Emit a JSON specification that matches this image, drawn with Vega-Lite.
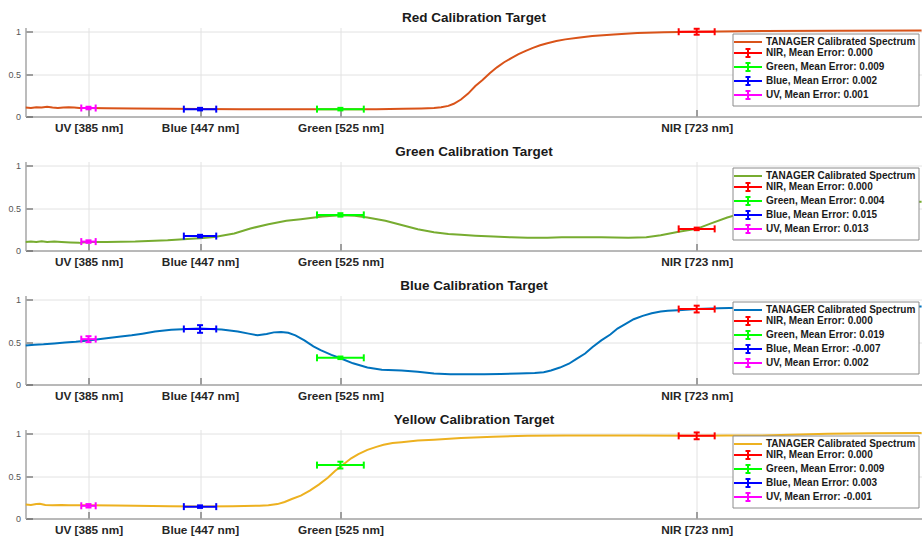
{
  "$schema": "https://vega.github.io/schema/vega-lite/v6.json",
  "autosize": {"type": "pad"},
  "padding": {"left": 7.5, "top": 10.5, "right": 0, "bottom": 0},
  "background": "#ffffff",
  "config": {
    "font": "Liberation Sans",
    "view": {"stroke": null},
    "title": {"fontSize": 13.5, "fontWeight": "bold", "color": "#1a1a1a", "anchor": "middle", "baseline": "alphabetic", "offset": 3},
    "axis": {"domainColor": "#a6a6a6", "domainWidth": 1.5, "gridColor": "#e2e2e2", "gridWidth": 1, "tickColor": "#4d4d4d", "tickWidth": 1, "tickSize": -7, "labelOverlap": false, "labelFlush": false},
    "axisX": {"labelFontSize": 11.8, "labelFontWeight": "bold", "labelColor": "#262626", "labelPadding": 12.5},
    "axisY": {"labelFontSize": 9, "labelColor": "#555555", "labelPadding": 12},
    "legend": {"labelFontSize": 10, "labelFontWeight": "bold", "labelColor": "#1a1a1a", "symbolSize": 100, "symbolStrokeWidth": 2, "symbolOffset": 7, "labelOffset": 12, "padding": 2.5, "rowPadding": -3.8, "strokeColor": "#8c8c8c", "fillColor": "#ffffff", "labelLimit": 0, "cornerRadius": 0}
  },
  "datasets": {
    "spectra": [
      {"t": "Red", "wl": 350, "r": 0.105}, {"t": "Red", "wl": 353, "r": 0.1}, {"t": "Red", "wl": 356, "r": 0.11}, {"t": "Red", "wl": 359, "r": 0.105},
      {"t": "Red", "wl": 362, "r": 0.115}, {"t": "Red", "wl": 365, "r": 0.105}, {"t": "Red", "wl": 368, "r": 0.1}, {"t": "Red", "wl": 371, "r": 0.105},
      {"t": "Red", "wl": 374, "r": 0.11}, {"t": "Red", "wl": 377, "r": 0.105}, {"t": "Red", "wl": 380, "r": 0.1}, {"t": "Red", "wl": 385, "r": 0.1},
      {"t": "Red", "wl": 395, "r": 0.098}, {"t": "Red", "wl": 410, "r": 0.094}, {"t": "Red", "wl": 430, "r": 0.09}, {"t": "Red", "wl": 447, "r": 0.088},
      {"t": "Red", "wl": 470, "r": 0.086}, {"t": "Red", "wl": 500, "r": 0.085}, {"t": "Red", "wl": 525, "r": 0.085}, {"t": "Red", "wl": 545, "r": 0.087},
      {"t": "Red", "wl": 560, "r": 0.09}, {"t": "Red", "wl": 570, "r": 0.095}, {"t": "Red", "wl": 577, "r": 0.1}, {"t": "Red", "wl": 581, "r": 0.108},
      {"t": "Red", "wl": 585, "r": 0.125}, {"t": "Red", "wl": 588, "r": 0.15}, {"t": "Red", "wl": 592, "r": 0.2}, {"t": "Red", "wl": 596, "r": 0.27},
      {"t": "Red", "wl": 600, "r": 0.36}, {"t": "Red", "wl": 604, "r": 0.43}, {"t": "Red", "wl": 608, "r": 0.51}, {"t": "Red", "wl": 612, "r": 0.58},
      {"t": "Red", "wl": 616, "r": 0.64}, {"t": "Red", "wl": 620, "r": 0.69}, {"t": "Red", "wl": 624, "r": 0.735}, {"t": "Red", "wl": 628, "r": 0.775},
      {"t": "Red", "wl": 632, "r": 0.81}, {"t": "Red", "wl": 636, "r": 0.84}, {"t": "Red", "wl": 640, "r": 0.865}, {"t": "Red", "wl": 645, "r": 0.89},
      {"t": "Red", "wl": 650, "r": 0.91}, {"t": "Red", "wl": 657, "r": 0.93}, {"t": "Red", "wl": 665, "r": 0.95}, {"t": "Red", "wl": 677, "r": 0.968},
      {"t": "Red", "wl": 690, "r": 0.985}, {"t": "Red", "wl": 705, "r": 0.993}, {"t": "Red", "wl": 723, "r": 1.0}, {"t": "Red", "wl": 760, "r": 1.008},
      {"t": "Red", "wl": 800, "r": 1.012}, {"t": "Red", "wl": 848, "r": 1.015},

      {"t": "Green", "wl": 350, "r": 0.1}, {"t": "Green", "wl": 353, "r": 0.105}, {"t": "Green", "wl": 356, "r": 0.1}, {"t": "Green", "wl": 359, "r": 0.11},
      {"t": "Green", "wl": 362, "r": 0.1}, {"t": "Green", "wl": 366, "r": 0.105}, {"t": "Green", "wl": 370, "r": 0.1}, {"t": "Green", "wl": 375, "r": 0.095},
      {"t": "Green", "wl": 380, "r": 0.09}, {"t": "Green", "wl": 385, "r": 0.1}, {"t": "Green", "wl": 395, "r": 0.1}, {"t": "Green", "wl": 411, "r": 0.105},
      {"t": "Green", "wl": 429, "r": 0.12}, {"t": "Green", "wl": 440, "r": 0.135}, {"t": "Green", "wl": 447, "r": 0.145}, {"t": "Green", "wl": 455, "r": 0.16},
      {"t": "Green", "wl": 466, "r": 0.2}, {"t": "Green", "wl": 475, "r": 0.26}, {"t": "Green", "wl": 485, "r": 0.31}, {"t": "Green", "wl": 495, "r": 0.35},
      {"t": "Green", "wl": 503, "r": 0.37}, {"t": "Green", "wl": 515, "r": 0.4}, {"t": "Green", "wl": 525, "r": 0.415}, {"t": "Green", "wl": 533, "r": 0.41},
      {"t": "Green", "wl": 540, "r": 0.39}, {"t": "Green", "wl": 550, "r": 0.35}, {"t": "Green", "wl": 559, "r": 0.3}, {"t": "Green", "wl": 568, "r": 0.25},
      {"t": "Green", "wl": 577, "r": 0.215}, {"t": "Green", "wl": 585, "r": 0.195}, {"t": "Green", "wl": 592, "r": 0.185}, {"t": "Green", "wl": 600, "r": 0.175},
      {"t": "Green", "wl": 610, "r": 0.165}, {"t": "Green", "wl": 620, "r": 0.155}, {"t": "Green", "wl": 629, "r": 0.15}, {"t": "Green", "wl": 640, "r": 0.15},
      {"t": "Green", "wl": 648, "r": 0.155}, {"t": "Green", "wl": 660, "r": 0.155}, {"t": "Green", "wl": 670, "r": 0.155}, {"t": "Green", "wl": 685, "r": 0.15},
      {"t": "Green", "wl": 695, "r": 0.155}, {"t": "Green", "wl": 703, "r": 0.18}, {"t": "Green", "wl": 713, "r": 0.22}, {"t": "Green", "wl": 723, "r": 0.255},
      {"t": "Green", "wl": 731, "r": 0.32}, {"t": "Green", "wl": 740, "r": 0.39}, {"t": "Green", "wl": 750, "r": 0.45}, {"t": "Green", "wl": 760, "r": 0.5},
      {"t": "Green", "wl": 775, "r": 0.54}, {"t": "Green", "wl": 790, "r": 0.555}, {"t": "Green", "wl": 810, "r": 0.565}, {"t": "Green", "wl": 830, "r": 0.57},
      {"t": "Green", "wl": 848, "r": 0.575},

      {"t": "Blue", "wl": 350, "r": 0.46}, {"t": "Blue", "wl": 355, "r": 0.47}, {"t": "Blue", "wl": 360, "r": 0.475}, {"t": "Blue", "wl": 366, "r": 0.485},
      {"t": "Blue", "wl": 372, "r": 0.495}, {"t": "Blue", "wl": 378, "r": 0.505}, {"t": "Blue", "wl": 385, "r": 0.52}, {"t": "Blue", "wl": 395, "r": 0.545},
      {"t": "Blue", "wl": 403, "r": 0.565}, {"t": "Blue", "wl": 409, "r": 0.58}, {"t": "Blue", "wl": 415, "r": 0.6}, {"t": "Blue", "wl": 422, "r": 0.625},
      {"t": "Blue", "wl": 431, "r": 0.645}, {"t": "Blue", "wl": 440, "r": 0.655}, {"t": "Blue", "wl": 447, "r": 0.66}, {"t": "Blue", "wl": 459, "r": 0.65},
      {"t": "Blue", "wl": 468, "r": 0.625}, {"t": "Blue", "wl": 474, "r": 0.6}, {"t": "Blue", "wl": 479, "r": 0.58}, {"t": "Blue", "wl": 484, "r": 0.595},
      {"t": "Blue", "wl": 488, "r": 0.615}, {"t": "Blue", "wl": 492, "r": 0.62}, {"t": "Blue", "wl": 496, "r": 0.61}, {"t": "Blue", "wl": 500, "r": 0.58},
      {"t": "Blue", "wl": 505, "r": 0.52}, {"t": "Blue", "wl": 510, "r": 0.45}, {"t": "Blue", "wl": 514, "r": 0.405}, {"t": "Blue", "wl": 520, "r": 0.35},
      {"t": "Blue", "wl": 525, "r": 0.31}, {"t": "Blue", "wl": 532, "r": 0.25}, {"t": "Blue", "wl": 540, "r": 0.2}, {"t": "Blue", "wl": 548, "r": 0.175},
      {"t": "Blue", "wl": 559, "r": 0.165}, {"t": "Blue", "wl": 568, "r": 0.15}, {"t": "Blue", "wl": 577, "r": 0.13}, {"t": "Blue", "wl": 586, "r": 0.122},
      {"t": "Blue", "wl": 596, "r": 0.12}, {"t": "Blue", "wl": 605, "r": 0.122}, {"t": "Blue", "wl": 614, "r": 0.125}, {"t": "Blue", "wl": 624, "r": 0.13},
      {"t": "Blue", "wl": 633, "r": 0.135}, {"t": "Blue", "wl": 638, "r": 0.145}, {"t": "Blue", "wl": 642, "r": 0.165}, {"t": "Blue", "wl": 647, "r": 0.2},
      {"t": "Blue", "wl": 652, "r": 0.245}, {"t": "Blue", "wl": 656, "r": 0.3}, {"t": "Blue", "wl": 661, "r": 0.365}, {"t": "Blue", "wl": 665, "r": 0.44},
      {"t": "Blue", "wl": 670, "r": 0.52}, {"t": "Blue", "wl": 675, "r": 0.59}, {"t": "Blue", "wl": 679, "r": 0.66}, {"t": "Blue", "wl": 684, "r": 0.72},
      {"t": "Blue", "wl": 688, "r": 0.77}, {"t": "Blue", "wl": 693, "r": 0.81}, {"t": "Blue", "wl": 698, "r": 0.84}, {"t": "Blue", "wl": 703, "r": 0.86},
      {"t": "Blue", "wl": 707, "r": 0.87}, {"t": "Blue", "wl": 715, "r": 0.88}, {"t": "Blue", "wl": 723, "r": 0.89}, {"t": "Blue", "wl": 735, "r": 0.9},
      {"t": "Blue", "wl": 760, "r": 0.91}, {"t": "Blue", "wl": 800, "r": 0.915}, {"t": "Blue", "wl": 848, "r": 0.92},

      {"t": "Yellow", "wl": 350, "r": 0.165}, {"t": "Yellow", "wl": 353, "r": 0.16}, {"t": "Yellow", "wl": 356, "r": 0.17}, {"t": "Yellow", "wl": 358, "r": 0.175},
      {"t": "Yellow", "wl": 361, "r": 0.16}, {"t": "Yellow", "wl": 365, "r": 0.155}, {"t": "Yellow", "wl": 370, "r": 0.16}, {"t": "Yellow", "wl": 374, "r": 0.155},
      {"t": "Yellow", "wl": 380, "r": 0.155}, {"t": "Yellow", "wl": 385, "r": 0.155}, {"t": "Yellow", "wl": 400, "r": 0.152}, {"t": "Yellow", "wl": 411, "r": 0.15},
      {"t": "Yellow", "wl": 430, "r": 0.145}, {"t": "Yellow", "wl": 447, "r": 0.143}, {"t": "Yellow", "wl": 465, "r": 0.145}, {"t": "Yellow", "wl": 480, "r": 0.15},
      {"t": "Yellow", "wl": 485, "r": 0.155}, {"t": "Yellow", "wl": 490, "r": 0.17}, {"t": "Yellow", "wl": 494, "r": 0.195}, {"t": "Yellow", "wl": 498, "r": 0.23},
      {"t": "Yellow", "wl": 503, "r": 0.27}, {"t": "Yellow", "wl": 508, "r": 0.33}, {"t": "Yellow", "wl": 513, "r": 0.4}, {"t": "Yellow", "wl": 518, "r": 0.48},
      {"t": "Yellow", "wl": 522, "r": 0.56}, {"t": "Yellow", "wl": 525, "r": 0.61}, {"t": "Yellow", "wl": 528, "r": 0.66}, {"t": "Yellow", "wl": 531, "r": 0.71},
      {"t": "Yellow", "wl": 535, "r": 0.76}, {"t": "Yellow", "wl": 540, "r": 0.81}, {"t": "Yellow", "wl": 545, "r": 0.845}, {"t": "Yellow", "wl": 549, "r": 0.87},
      {"t": "Yellow", "wl": 554, "r": 0.89}, {"t": "Yellow", "wl": 559, "r": 0.9}, {"t": "Yellow", "wl": 568, "r": 0.92}, {"t": "Yellow", "wl": 577, "r": 0.93},
      {"t": "Yellow", "wl": 592, "r": 0.95}, {"t": "Yellow", "wl": 610, "r": 0.965}, {"t": "Yellow", "wl": 629, "r": 0.975}, {"t": "Yellow", "wl": 650, "r": 0.98},
      {"t": "Yellow", "wl": 666, "r": 0.98}, {"t": "Yellow", "wl": 690, "r": 0.978}, {"t": "Yellow", "wl": 723, "r": 0.975}, {"t": "Yellow", "wl": 740, "r": 0.978},
      {"t": "Yellow", "wl": 759, "r": 0.98}, {"t": "Yellow", "wl": 780, "r": 0.99}, {"t": "Yellow", "wl": 796, "r": 1.0}, {"t": "Yellow", "wl": 820, "r": 1.005},
      {"t": "Yellow", "wl": 848, "r": 1.01}
    ],
    "bands": [
      {"t": "Red", "label": "NIR, Mean Error: 0.000", "wl": 723, "lo": 713, "hi": 733, "r": 1.0, "rlo": 0.965, "rhi": 1.035},
      {"t": "Red", "label": "Green, Mean Error: 0.009", "wl": 525, "lo": 512, "hi": 538, "r": 0.087, "rlo": 0.072, "rhi": 0.102},
      {"t": "Red", "label": "Blue, Mean Error: 0.002", "wl": 447, "lo": 438, "hi": 456, "r": 0.087, "rlo": 0.072, "rhi": 0.102},
      {"t": "Red", "label": "UV, Mean Error: 0.001", "wl": 385, "lo": 381, "hi": 389, "r": 0.1, "rlo": 0.085, "rhi": 0.115},
      {"t": "Green", "label": "NIR, Mean Error: 0.000", "wl": 723, "lo": 713, "hi": 733, "r": 0.255, "rlo": 0.24, "rhi": 0.27},
      {"t": "Green", "label": "Green, Mean Error: 0.004", "wl": 525, "lo": 512, "hi": 538, "r": 0.42, "rlo": 0.4, "rhi": 0.44},
      {"t": "Green", "label": "Blue, Mean Error: 0.015", "wl": 447, "lo": 438, "hi": 456, "r": 0.17, "rlo": 0.155, "rhi": 0.185},
      {"t": "Green", "label": "UV, Mean Error: 0.013", "wl": 385, "lo": 381, "hi": 389, "r": 0.105, "rlo": 0.09, "rhi": 0.12},
      {"t": "Blue", "label": "NIR, Mean Error: 0.000", "wl": 723, "lo": 713, "hi": 733, "r": 0.89, "rlo": 0.85, "rhi": 0.93},
      {"t": "Blue", "label": "Green, Mean Error: 0.019", "wl": 525, "lo": 512, "hi": 538, "r": 0.315, "rlo": 0.3, "rhi": 0.33},
      {"t": "Blue", "label": "Blue, Mean Error: -0.007", "wl": 447, "lo": 438, "hi": 456, "r": 0.655, "rlo": 0.61, "rhi": 0.7},
      {"t": "Blue", "label": "UV, Mean Error: 0.002", "wl": 385, "lo": 381, "hi": 389, "r": 0.535, "rlo": 0.5, "rhi": 0.57},
      {"t": "Yellow", "label": "NIR, Mean Error: 0.000", "wl": 723, "lo": 713, "hi": 733, "r": 0.975, "rlo": 0.935, "rhi": 1.015},
      {"t": "Yellow", "label": "Green, Mean Error: 0.009", "wl": 525, "lo": 512, "hi": 538, "r": 0.63, "rlo": 0.59, "rhi": 0.67},
      {"t": "Yellow", "label": "Blue, Mean Error: 0.003", "wl": 447, "lo": 438, "hi": 456, "r": 0.14, "rlo": 0.125, "rhi": 0.155},
      {"t": "Yellow", "label": "UV, Mean Error: -0.001", "wl": 385, "lo": 381, "hi": 389, "r": 0.15, "rlo": 0.13, "rhi": 0.17}
    ]
  },
  "spacing": 45,
  "bounds": "flush",
  "resolve": {"scale": {"x": "independent", "y": "independent", "color": "independent"}, "legend": {"color": "independent"}},
  "vconcat": [
    {
      "title": "Red Calibration Target",
      "width": 897, "height": 89,
      "encoding": {
        "x": {"field": "wl", "type": "quantitative", "scale": {"domain": [350, 848.5], "nice": false, "zero": false}, "axis": {"title": null, "values": [385, 447, 525, 723], "labelExpr": "datum.value == 385 ? 'UV [385 nm]' : datum.value == 447 ? 'Blue [447 nm]' : datum.value == 525 ? 'Green [525 nm]' : 'NIR [723 nm]'"}},
        "y": {"field": "r", "type": "quantitative", "scale": {"domain": [0, 1.05], "nice": false}, "axis": {"title": null, "values": [0, 0.5, 1], "format": "~g"}},
        "color": {"field": "label", "type": "nominal",
          "scale": {"domain": ["TANAGER Calibrated Spectrum", "NIR, Mean Error: 0.000", "Green, Mean Error: 0.009", "Blue, Mean Error: 0.002", "UV, Mean Error: 0.001"], "range": ["#d95319", "#ff0000", "#00ff00", "#0000ff", "#ff00ff"]},
          "legend": {"title": null, "orient": "none", "legendX": 707, "legendY": 6, "symbolType": "M-2.8,0H2.8M0,-0.8V0.8M-0.5,-0.8H0.5M-0.5,0.8H0.5", "encode": {"symbols": {"update": {"fill": {"value": "transparent"}, "shape": [{"test": "datum.index === 0", "value": "M-2.8,0H2.8"}, {"value": "M-2.8,0H2.8M0,-0.8V0.8M-0.5,-0.8H0.5M-0.5,0.8H0.5"}]}}}}}
      },
      "layer": [
        {"data": {"name": "spectra"}, "transform": [{"filter": "datum.t === 'Red'"}], "mark": {"type": "line", "strokeWidth": 2, "clip": true}, "encoding": {"color": {"datum": "TANAGER Calibrated Spectrum", "type": "nominal"}}},
        {"data": {"name": "bands"}, "transform": [{"filter": "datum.t === 'Red'"}], "mark": {"type": "rule", "strokeWidth": 2}, "encoding": {"x": {"field": "lo", "type": "quantitative", "title": null}, "x2": {"field": "hi"}}},
        {"data": {"name": "bands"}, "transform": [{"filter": "datum.t === 'Red'"}], "mark": {"type": "rule", "strokeWidth": 2}, "encoding": {"y": {"field": "rlo", "type": "quantitative", "title": null}, "y2": {"field": "rhi"}}},
        {"data": {"name": "bands"}, "transform": [{"filter": "datum.t === 'Red'"}], "mark": {"type": "tick", "orient": "vertical", "size": 7, "thickness": 2, "opacity": 1}, "encoding": {"x": {"field": "lo", "type": "quantitative", "title": null}}},
        {"data": {"name": "bands"}, "transform": [{"filter": "datum.t === 'Red'"}], "mark": {"type": "tick", "orient": "vertical", "size": 7, "thickness": 2, "opacity": 1}, "encoding": {"x": {"field": "hi", "type": "quantitative", "title": null}}},
        {"data": {"name": "bands"}, "transform": [{"filter": "datum.t === 'Red'"}], "mark": {"type": "tick", "orient": "horizontal", "size": 6, "thickness": 2, "opacity": 1}, "encoding": {"y": {"field": "rlo", "type": "quantitative", "title": null}}},
        {"data": {"name": "bands"}, "transform": [{"filter": "datum.t === 'Red'"}], "mark": {"type": "tick", "orient": "horizontal", "size": 6, "thickness": 2, "opacity": 1}, "encoding": {"y": {"field": "rhi", "type": "quantitative", "title": null}}}
      ]
    },
    {
      "title": "Green Calibration Target",
      "width": 897, "height": 89,
      "encoding": {
        "x": {"field": "wl", "type": "quantitative", "scale": {"domain": [350, 848.5], "nice": false, "zero": false}, "axis": {"title": null, "values": [385, 447, 525, 723], "labelExpr": "datum.value == 385 ? 'UV [385 nm]' : datum.value == 447 ? 'Blue [447 nm]' : datum.value == 525 ? 'Green [525 nm]' : 'NIR [723 nm]'"}},
        "y": {"field": "r", "type": "quantitative", "scale": {"domain": [0, 1.05], "nice": false}, "axis": {"title": null, "values": [0, 0.5, 1], "format": "~g"}},
        "color": {"field": "label", "type": "nominal",
          "scale": {"domain": ["TANAGER Calibrated Spectrum", "NIR, Mean Error: 0.000", "Green, Mean Error: 0.004", "Blue, Mean Error: 0.015", "UV, Mean Error: 0.013"], "range": ["#77ac30", "#ff0000", "#00ff00", "#0000ff", "#ff00ff"]},
          "legend": {"title": null, "orient": "none", "legendX": 707, "legendY": 6, "symbolType": "M-2.8,0H2.8M0,-0.8V0.8M-0.5,-0.8H0.5M-0.5,0.8H0.5", "encode": {"symbols": {"update": {"fill": {"value": "transparent"}, "shape": [{"test": "datum.index === 0", "value": "M-2.8,0H2.8"}, {"value": "M-2.8,0H2.8M0,-0.8V0.8M-0.5,-0.8H0.5M-0.5,0.8H0.5"}]}}}}}
      },
      "layer": [
        {"data": {"name": "spectra"}, "transform": [{"filter": "datum.t === 'Green'"}], "mark": {"type": "line", "strokeWidth": 2, "clip": true}, "encoding": {"color": {"datum": "TANAGER Calibrated Spectrum", "type": "nominal"}}},
        {"data": {"name": "bands"}, "transform": [{"filter": "datum.t === 'Green'"}], "mark": {"type": "rule", "strokeWidth": 2}, "encoding": {"x": {"field": "lo", "type": "quantitative", "title": null}, "x2": {"field": "hi"}}},
        {"data": {"name": "bands"}, "transform": [{"filter": "datum.t === 'Green'"}], "mark": {"type": "rule", "strokeWidth": 2}, "encoding": {"y": {"field": "rlo", "type": "quantitative", "title": null}, "y2": {"field": "rhi"}}},
        {"data": {"name": "bands"}, "transform": [{"filter": "datum.t === 'Green'"}], "mark": {"type": "tick", "orient": "vertical", "size": 7, "thickness": 2, "opacity": 1}, "encoding": {"x": {"field": "lo", "type": "quantitative", "title": null}}},
        {"data": {"name": "bands"}, "transform": [{"filter": "datum.t === 'Green'"}], "mark": {"type": "tick", "orient": "vertical", "size": 7, "thickness": 2, "opacity": 1}, "encoding": {"x": {"field": "hi", "type": "quantitative", "title": null}}},
        {"data": {"name": "bands"}, "transform": [{"filter": "datum.t === 'Green'"}], "mark": {"type": "tick", "orient": "horizontal", "size": 6, "thickness": 2, "opacity": 1}, "encoding": {"y": {"field": "rlo", "type": "quantitative", "title": null}}},
        {"data": {"name": "bands"}, "transform": [{"filter": "datum.t === 'Green'"}], "mark": {"type": "tick", "orient": "horizontal", "size": 6, "thickness": 2, "opacity": 1}, "encoding": {"y": {"field": "rhi", "type": "quantitative", "title": null}}}
      ]
    },
    {
      "title": "Blue Calibration Target",
      "width": 897, "height": 89,
      "encoding": {
        "x": {"field": "wl", "type": "quantitative", "scale": {"domain": [350, 848.5], "nice": false, "zero": false}, "axis": {"title": null, "values": [385, 447, 525, 723], "labelExpr": "datum.value == 385 ? 'UV [385 nm]' : datum.value == 447 ? 'Blue [447 nm]' : datum.value == 525 ? 'Green [525 nm]' : 'NIR [723 nm]'"}},
        "y": {"field": "r", "type": "quantitative", "scale": {"domain": [0, 1.05], "nice": false}, "axis": {"title": null, "values": [0, 0.5, 1], "format": "~g"}},
        "color": {"field": "label", "type": "nominal",
          "scale": {"domain": ["TANAGER Calibrated Spectrum", "NIR, Mean Error: 0.000", "Green, Mean Error: 0.019", "Blue, Mean Error: -0.007", "UV, Mean Error: 0.002"], "range": ["#0072bd", "#ff0000", "#00ff00", "#0000ff", "#ff00ff"]},
          "legend": {"title": null, "orient": "none", "legendX": 707, "legendY": 6, "symbolType": "M-2.8,0H2.8M0,-0.8V0.8M-0.5,-0.8H0.5M-0.5,0.8H0.5", "encode": {"symbols": {"update": {"fill": {"value": "transparent"}, "shape": [{"test": "datum.index === 0", "value": "M-2.8,0H2.8"}, {"value": "M-2.8,0H2.8M0,-0.8V0.8M-0.5,-0.8H0.5M-0.5,0.8H0.5"}]}}}}}
      },
      "layer": [
        {"data": {"name": "spectra"}, "transform": [{"filter": "datum.t === 'Blue'"}], "mark": {"type": "line", "strokeWidth": 2, "clip": true}, "encoding": {"color": {"datum": "TANAGER Calibrated Spectrum", "type": "nominal"}}},
        {"data": {"name": "bands"}, "transform": [{"filter": "datum.t === 'Blue'"}], "mark": {"type": "rule", "strokeWidth": 2}, "encoding": {"x": {"field": "lo", "type": "quantitative", "title": null}, "x2": {"field": "hi"}}},
        {"data": {"name": "bands"}, "transform": [{"filter": "datum.t === 'Blue'"}], "mark": {"type": "rule", "strokeWidth": 2}, "encoding": {"y": {"field": "rlo", "type": "quantitative", "title": null}, "y2": {"field": "rhi"}}},
        {"data": {"name": "bands"}, "transform": [{"filter": "datum.t === 'Blue'"}], "mark": {"type": "tick", "orient": "vertical", "size": 7, "thickness": 2, "opacity": 1}, "encoding": {"x": {"field": "lo", "type": "quantitative", "title": null}}},
        {"data": {"name": "bands"}, "transform": [{"filter": "datum.t === 'Blue'"}], "mark": {"type": "tick", "orient": "vertical", "size": 7, "thickness": 2, "opacity": 1}, "encoding": {"x": {"field": "hi", "type": "quantitative", "title": null}}},
        {"data": {"name": "bands"}, "transform": [{"filter": "datum.t === 'Blue'"}], "mark": {"type": "tick", "orient": "horizontal", "size": 6, "thickness": 2, "opacity": 1}, "encoding": {"y": {"field": "rlo", "type": "quantitative", "title": null}}},
        {"data": {"name": "bands"}, "transform": [{"filter": "datum.t === 'Blue'"}], "mark": {"type": "tick", "orient": "horizontal", "size": 6, "thickness": 2, "opacity": 1}, "encoding": {"y": {"field": "rhi", "type": "quantitative", "title": null}}}
      ]
    },
    {
      "title": "Yellow Calibration Target",
      "width": 897, "height": 89,
      "encoding": {
        "x": {"field": "wl", "type": "quantitative", "scale": {"domain": [350, 848.5], "nice": false, "zero": false}, "axis": {"title": null, "values": [385, 447, 525, 723], "labelExpr": "datum.value == 385 ? 'UV [385 nm]' : datum.value == 447 ? 'Blue [447 nm]' : datum.value == 525 ? 'Green [525 nm]' : 'NIR [723 nm]'"}},
        "y": {"field": "r", "type": "quantitative", "scale": {"domain": [0, 1.05], "nice": false}, "axis": {"title": null, "values": [0, 0.5, 1], "format": "~g"}},
        "color": {"field": "label", "type": "nominal",
          "scale": {"domain": ["TANAGER Calibrated Spectrum", "NIR, Mean Error: 0.000", "Green, Mean Error: 0.009", "Blue, Mean Error: 0.003", "UV, Mean Error: -0.001"], "range": ["#edb120", "#ff0000", "#00ff00", "#0000ff", "#ff00ff"]},
          "legend": {"title": null, "orient": "none", "legendX": 707, "legendY": 6, "symbolType": "M-2.8,0H2.8M0,-0.8V0.8M-0.5,-0.8H0.5M-0.5,0.8H0.5", "encode": {"symbols": {"update": {"fill": {"value": "transparent"}, "shape": [{"test": "datum.index === 0", "value": "M-2.8,0H2.8"}, {"value": "M-2.8,0H2.8M0,-0.8V0.8M-0.5,-0.8H0.5M-0.5,0.8H0.5"}]}}}}}
      },
      "layer": [
        {"data": {"name": "spectra"}, "transform": [{"filter": "datum.t === 'Yellow'"}], "mark": {"type": "line", "strokeWidth": 2, "clip": true}, "encoding": {"color": {"datum": "TANAGER Calibrated Spectrum", "type": "nominal"}}},
        {"data": {"name": "bands"}, "transform": [{"filter": "datum.t === 'Yellow'"}], "mark": {"type": "rule", "strokeWidth": 2}, "encoding": {"x": {"field": "lo", "type": "quantitative", "title": null}, "x2": {"field": "hi"}}},
        {"data": {"name": "bands"}, "transform": [{"filter": "datum.t === 'Yellow'"}], "mark": {"type": "rule", "strokeWidth": 2}, "encoding": {"y": {"field": "rlo", "type": "quantitative", "title": null}, "y2": {"field": "rhi"}}},
        {"data": {"name": "bands"}, "transform": [{"filter": "datum.t === 'Yellow'"}], "mark": {"type": "tick", "orient": "vertical", "size": 7, "thickness": 2, "opacity": 1}, "encoding": {"x": {"field": "lo", "type": "quantitative", "title": null}}},
        {"data": {"name": "bands"}, "transform": [{"filter": "datum.t === 'Yellow'"}], "mark": {"type": "tick", "orient": "vertical", "size": 7, "thickness": 2, "opacity": 1}, "encoding": {"x": {"field": "hi", "type": "quantitative", "title": null}}},
        {"data": {"name": "bands"}, "transform": [{"filter": "datum.t === 'Yellow'"}], "mark": {"type": "tick", "orient": "horizontal", "size": 6, "thickness": 2, "opacity": 1}, "encoding": {"y": {"field": "rlo", "type": "quantitative", "title": null}}},
        {"data": {"name": "bands"}, "transform": [{"filter": "datum.t === 'Yellow'"}], "mark": {"type": "tick", "orient": "horizontal", "size": 6, "thickness": 2, "opacity": 1}, "encoding": {"y": {"field": "rhi", "type": "quantitative", "title": null}}}
      ]
    }
  ]
}
